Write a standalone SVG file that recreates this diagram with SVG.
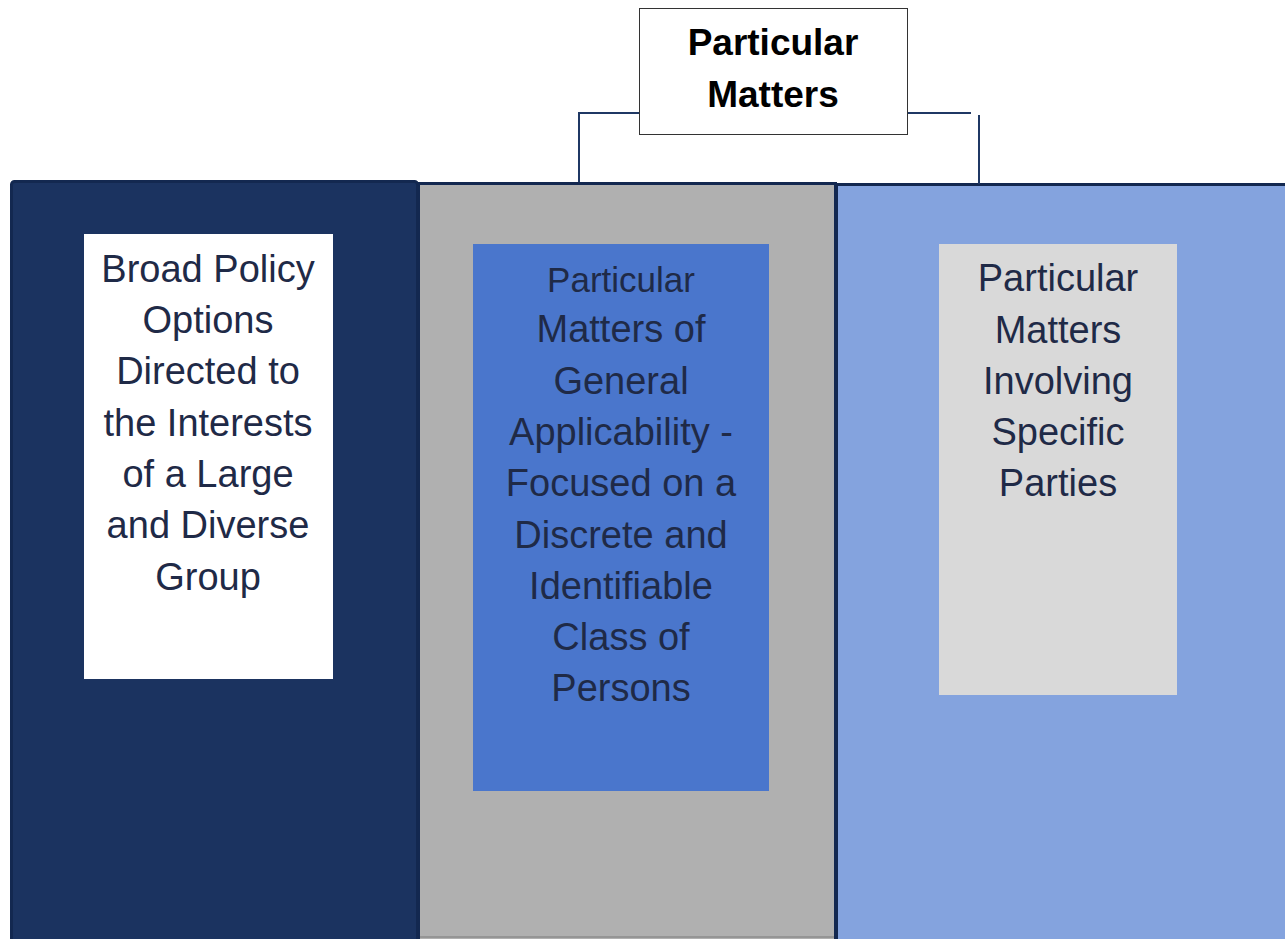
<svg xmlns="http://www.w3.org/2000/svg" width="1285" height="939" viewBox="0 0 1285 939">
<style>
.t{font-family:"Liberation Sans",Arial,sans-serif;font-size:38px;fill:#1F2A47;text-anchor:middle}
.h{font-family:"Liberation Sans",Arial,sans-serif;font-size:37px;font-weight:bold;fill:#000;text-anchor:middle}
.col{stroke:#132850;stroke-width:3}
.conn{stroke:#1F3864;stroke-width:2;fill:none}
</style>
<rect width="1285" height="939" fill="#fff"/>
<g id="col-left">
<rect class="col" x="11.5" y="181.5" width="406" height="770" rx="3" fill="#1B3360"/>
</g>
<g id="col-middle">
<rect class="col" x="418.5" y="183.5" width="417" height="768" fill="#B0B0B0"/>
<line x1="420" y1="937" x2="834" y2="937" stroke="#7a7a7a" stroke-width="1"/>
</g>
<g id="col-right">
<rect class="col" x="836.5" y="184.5" width="460" height="770" fill="#84A3DE"/>
</g>
<g id="connectors">
<polyline class="conn" points="639,113 579,113 579,182"/>
<polyline class="conn" points="907,113 971,113"/>
<line class="conn" x1="979" y1="115" x2="979" y2="184"/>
</g>
<g id="title">
<rect x="639.5" y="8.5" width="268" height="126" fill="#fff" stroke="#333" stroke-width="1"/>
<text class="h" x="773" y="55">Particular</text>
<text class="h" x="773" y="107">Matters</text>
</g>
<g id="broad-policy">
<rect x="84" y="234" width="249" height="445" fill="#fff"/>
<text class="t" x="208" y="282">Broad Policy</text>
<text class="t" x="208" y="333">Options</text>
<text class="t" x="208" y="384">Directed to</text>
<text class="t" x="208" y="436">the Interests</text>
<text class="t" x="208" y="487">of a Large</text>
<text class="t" x="208" y="538">and Diverse</text>
<text class="t" x="208" y="590">Group</text>
</g>
<g id="general-applicability">
<rect x="473" y="244" width="296" height="547" fill="#4A76CC"/>
<text class="t" x="621" y="292" style="font-size:35px">Particular</text>
<text class="t" x="621" y="342">Matters of</text>
<text class="t" x="621" y="394">General</text>
<text class="t" x="621" y="445">Applicability -</text>
<text class="t" x="621" y="496">Focused on a</text>
<text class="t" x="621" y="548">Discrete and</text>
<text class="t" x="621" y="599">Identifiable</text>
<text class="t" x="621" y="650">Class of</text>
<text class="t" x="621" y="701">Persons</text>
</g>
<g id="specific-parties">
<rect x="939" y="244" width="238" height="451" fill="#D9D9D9"/>
<text class="t" x="1058" y="291">Particular</text>
<text class="t" x="1058" y="343">Matters</text>
<text class="t" x="1058" y="394">Involving</text>
<text class="t" x="1058" y="445">Specific</text>
<text class="t" x="1058" y="496">Parties</text>
</g>
</svg>
